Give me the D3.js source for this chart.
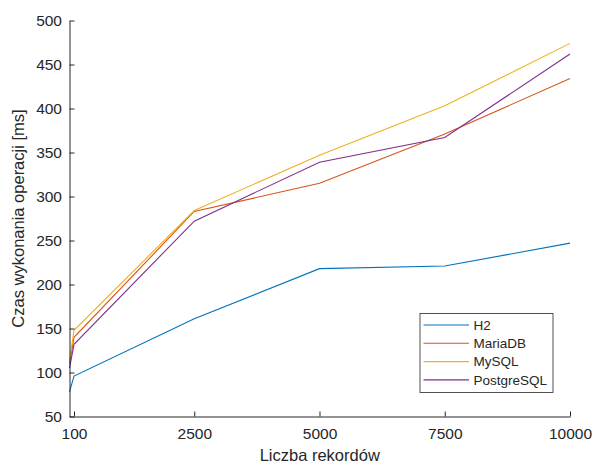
<!DOCTYPE html>
<html><head><meta charset="utf-8">
<script src="https://cdn.jsdelivr.net/npm/d3@7"></script>
<style>body{margin:0;background:#fff}svg{display:block}text{font-family:"Liberation Sans",Arial,sans-serif;fill:#262626}</style>
</head><body><svg id="c" width="601" height="463"></svg>
<script>
const records = [10, 100, 2500, 5000, 7500, 10000];
const h2 = [78, 96, 161, 218, 221, 247];
const mariadb = [110, 140, 283, 315, 371, 434];
const mysql = [113, 148, 284, 347, 403, 474];
const postgresql = [105, 132, 272, 339, 367, 462];
const seriesNames = ["H2", "MariaDB", "MySQL", "PostgreSQL"];
const seriesColors = ["#0072BD", "#D95319", "#EDB120", "#7E2F8E"];
const xTicks = [100, 2500, 5000, 7500, 10000];
const yTicks = [50, 100, 150, 200, 250, 300, 350, 400, 450, 500];
const xLabel = "Liczba rekordów";
const yLabel = "Czas wykonania operacji [ms]";

const svg = d3.select("#c");
const L = 69.5, R = 570, T = 20.5, B = 416.5;
const x = d3.scaleLinear().domain([10, 10000]).range([L, R]);
const y = d3.scaleLinear().domain([50, 500]).range([B, T]);

const series = [h2, mariadb, mysql, postgresql];
const line = d3.line().x((d, i) => x(records[i])).y(d => y(d));
svg.append("g").selectAll("path").data(series).join("path")
  .attr("d", d => line(d)).attr("fill", "none")
  .attr("stroke", (d, i) => seriesColors[i]).attr("stroke-width", 1.1);

const xa = svg.append("g").attr("transform", `translate(0,${B})`)
  .call(d3.axisBottom(x).tickValues(xTicks).tickSizeInner(-5).tickSizeOuter(0).tickPadding(11).tickFormat(d3.format("d")));
const ya = svg.append("g").attr("transform", `translate(${L},0)`)
  .call(d3.axisLeft(y).tickValues(yTicks).tickSizeInner(-5).tickSizeOuter(0).tickPadding(7.5).tickFormat(d3.format("d")));
[xa, ya].forEach(a => {
  a.select(".domain").attr("stroke", "#262626");
  a.selectAll(".tick line").attr("stroke", "#262626");
  a.selectAll("text").attr("font-size", 15.5).attr("fill", "#262626").attr("font-family", "Liberation Sans, Arial, sans-serif");
});
xa.selectAll("text").attr("dy", "0.71em");

svg.append("text").attr("x", (L + R) / 2).attr("y", 461).attr("text-anchor", "middle")
  .attr("font-size", 16.5).text(xLabel);
svg.append("text").attr("transform", `translate(24,${(T + B) / 2}) rotate(-90)`)
  .attr("text-anchor", "middle").attr("font-size", 16.5).text(yLabel);

const lg = svg.append("g");
lg.append("rect").attr("x", 420).attr("y", 313.5).attr("width", 133).attr("height", 79)
  .attr("fill", "#fff").attr("stroke", "#262626").attr("stroke-width", 0.8);
seriesNames.forEach((n, i) => {
  const yy = 325 + i * 18.3;
  lg.append("line").attr("x1", 423.5).attr("x2", 469).attr("y1", yy).attr("y2", yy)
    .attr("stroke", seriesColors[i]).attr("stroke-width", 1.1);
  lg.append("text").attr("x", 473.5).attr("y", yy).attr("dy", "0.36em").attr("font-size", 13.5).text(n);
});
</script></body></html>
